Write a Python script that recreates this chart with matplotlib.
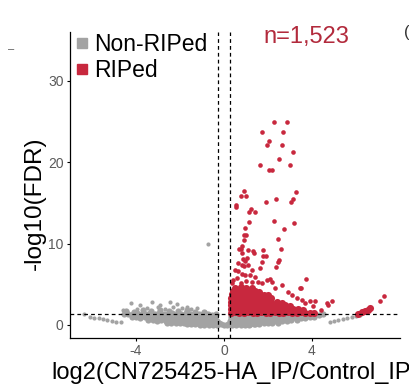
import matplotlib
matplotlib.use("Agg")
import matplotlib.pyplot as plt
from matplotlib.lines import Line2D

plt.rcParams["font.family"] = ["Liberation Sans", "DejaVu Sans"]
plt.rcParams["axes.unicode_minus"] = False

RED = "#C8283E"
GRAY = "#A3A3A3"

# red points above the cut-off, read one by one
red_sparse_x = [2.29, 2.88, 1.73, 2.67, 2.06, 1.95, 2.62, 3.12, 2.52, 1.64, 2.98, 2.06, 2.18,
                0.89, 3.26, 0.76, 0.98, 2.36, 3.14, 1.91, 3.03, 0.56, 0.55, 1.21, 1.42, 1.15,
                2.27, 1.15, 3.17, 0.95, 2.73, 0.93, 0.99, 2.44, 0.91, 0.83, 0.68, 0.79, 1.11,
                1.33, 1.79, 2.59, 0.83, 1.36, 1.79, 1.89, 2.51, 2.47, 0.85, 0.95, 1.03, 0.65,
                0.80, 0.91, 1.11, 1.26, 1.71, 1.64, 2.36, 0.50, 0.65, 0.80, 0.95, 1.18, 1.41,
                2.09, 2.17, 3.73, 1.56, 1.71, 1.94, 3.45, 2.62, 2.92, 3.08, 3.30, 3.53, 3.68,
                3.91, 4.14, 4.67, 4.89, 4.41, 4.74, 4.06, 3.48, 0.40, 0.60, 0.35, 1.00, 1.25,
                0.75, 2.30, 7.09, 7.29]
red_sparse_y = [25.0, 25.0, 23.7, 23.7, 22.6, 22.1, 22.1, 21.3, 20.4, 19.7, 19.6, 19.1, 19.1,
                16.5, 16.4, 15.9, 15.8, 15.5, 15.5, 15.1, 15.1, 14.7, 14.5, 14.2, 13.9, 13.9,
                12.8, 12.7, 12.5, 11.9, 11.8, 11.1, 11.0, 10.6, 10.4, 9.7, 9.3, 9.3, 9.2,
                9.1, 9.2, 9.3, 8.8, 8.8, 8.5, 8.5, 8.0, 7.8, 8.1, 7.9, 8.2, 7.6,
                7.4, 7.2, 7.4, 6.8, 7.7, 7.0, 7.1, 6.8, 6.6, 6.3, 6.2, 6.2, 5.9,
                5.7, 5.3, 5.7, 5.3, 5.1, 5.5, 4.5, 4.9, 4.1, 3.7, 3.3, 3.1, 2.7,
                2.9, 2.9, 2.7, 3.0, 1.8, 2.5, 2.3, 4.6, 5.5, 5.8, 5.2, 5.4, 5.3,
                5.1, 4.6, 3.0, 3.5]

# dense red block just above the cut-off
red_core_x = [0.32, 0.50, 0.70, 0.90, 1.10, 1.30, 1.50, 1.70, 1.90, 2.10, 2.30, 2.50, 2.70, 2.90,
              3.10, 3.30, 3.50, 3.70, 3.90, 4.10,
              0.33, 0.52, 0.72, 0.92, 1.12, 1.32, 1.52, 1.72, 1.92, 2.12, 2.32, 2.52, 2.72, 2.92,
              3.12, 3.35, 3.60,
              0.32, 0.50, 0.70, 0.90, 1.10, 1.30, 1.50, 1.70, 1.90, 2.10, 2.30, 2.50, 2.75, 3.00,
              0.34, 0.54, 0.74, 0.94, 1.14, 1.34, 1.54, 1.74, 1.94, 2.14, 2.40, 2.65,
              0.33, 0.52, 0.72, 0.92, 1.12, 1.32, 1.52, 1.72, 1.92, 2.15,
              0.36, 0.55, 0.75, 0.95, 1.15, 1.35, 1.55, 1.80, 2.00,
              0.42, 0.60, 0.80, 1.00, 1.20, 1.40, 1.60,
              0.50, 0.75, 1.00, 1.25,
              6.10, 6.25, 6.40, 6.55, 6.64]
red_core_y = [1.50, 1.55, 1.45, 1.50, 1.55, 1.45, 1.50, 1.55, 1.45, 1.50, 1.55, 1.45, 1.50, 1.55,
              1.45, 1.50, 1.55, 1.45, 1.50, 1.45,
              1.95, 1.90, 2.00, 1.95, 1.90, 2.00, 1.95, 1.90, 2.00, 1.95, 1.90, 2.00, 1.95, 1.90,
              2.00, 1.95, 1.85,
              2.40, 2.45, 2.35, 2.40, 2.45, 2.35, 2.40, 2.45, 2.35, 2.40, 2.45, 2.35, 2.40, 2.35,
              2.85, 2.80, 2.90, 2.85, 2.80, 2.90, 2.85, 2.80, 2.90, 2.85, 2.80, 2.75,
              3.30, 3.35, 3.25, 3.30, 3.35, 3.25, 3.30, 3.35, 3.25, 3.30,
              3.75, 3.80, 3.70, 3.75, 3.80, 3.70, 3.75, 3.70, 3.65,
              4.20, 4.25, 4.15, 4.20, 4.25, 4.15, 4.10,
              4.60, 4.65, 4.55, 4.60,
              1.38, 1.55, 1.70, 1.90, 2.05]

# grey band, left of zero
gray_left_x = [-4.55, -4.35, -4.15, -3.95, -3.75, -3.55, -3.35, -3.15, -2.95, -2.75, -2.55, -2.35,
               -2.15, -1.95, -1.75, -1.55, -1.35, -1.15, -0.95, -0.75, -0.55, -0.38,
               -4.2, -4.0, -3.8, -3.6, -3.4, -3.2, -3.0, -2.8, -2.6, -2.4, -2.2, -2.0, -1.8, -1.6,
               -1.4, -1.2, -1.0, -0.8, -0.6, -0.4,
               -3.45, -3.25, -3.05, -2.85, -2.65, -2.45, -2.25, -2.05, -1.85, -1.65, -1.45, -1.25,
               -1.05, -0.85, -0.65, -0.45, -0.30,
               -2.6, -2.4, -2.2, -2.0, -1.8, -1.6, -1.4, -1.2, -1.0, -0.8, -0.6, -0.4, -0.25,
               -1.7, -1.5, -1.3, -1.1, -0.9, -0.7, -0.5, -0.3, -0.15,
               -4.45, -4.1, -3.7, -3.3, -2.9, -2.5, -2.1, -1.7, -1.3, -0.9]
gray_left_y = [1.30, 1.40, 1.35, 1.45, 1.30, 1.40, 1.50, 1.35, 1.45, 1.40, 1.30, 1.50,
               1.40, 1.35, 1.45, 1.30, 1.40, 1.35, 1.30, 1.40, 1.25, 1.30,
               1.00, 0.95, 0.90, 0.95, 0.90, 0.95, 1.00, 0.90, 0.95, 0.90, 1.00, 0.95, 0.90, 0.95,
               1.00, 0.90, 0.95, 0.90, 0.95, 0.90,
               0.65, 0.60, 0.55, 0.60, 0.55, 0.60, 0.55, 0.60, 0.55, 0.60, 0.55, 0.60,
               0.55, 0.60, 0.55, 0.60, 0.55,
               0.30, 0.28, 0.25, 0.30, 0.25, 0.28, 0.25, 0.30, 0.25, 0.28, 0.30, 0.25, 0.30,
               0.10, 0.08, 0.06, 0.05, 0.04, 0.05, 0.03, 0.05, 0.10,
               1.75, 1.65, 1.80, 1.70, 1.85, 1.75, 1.70, 1.80, 1.65, 1.60]

# grey band, right of zero
gray_right_x = [0.3, 0.5, 0.7, 0.9, 1.1, 1.3, 1.5, 1.7, 1.9, 2.1, 2.3, 2.5, 2.7, 2.9, 3.1, 3.3,
                3.5, 3.7, 3.9, 4.1, 4.3, 4.5,
                0.3, 0.5, 0.7, 0.9, 1.1, 1.3, 1.5, 1.7, 1.9, 2.1, 2.3, 2.5, 2.7, 2.9, 3.1, 3.3,
                3.5, 3.7, 3.9, 4.1,
                0.25, 0.45, 0.65, 0.85, 1.05, 1.25, 1.45, 1.65, 1.85, 2.05, 2.25, 2.45, 2.65,
                2.85, 3.05, 3.30,
                0.2, 0.4, 0.6, 0.8, 1.0, 1.2, 1.4, 1.6, 1.8, 2.0, 2.2, 2.45,
                0.0, 0.15, 0.35, 0.55, 0.75, 0.95, 1.15, 1.35]
gray_right_y = [1.15, 1.10, 1.20, 1.15, 1.10, 1.20, 1.15, 1.10, 1.20, 1.15, 1.10, 1.20, 1.15,
                1.10, 1.20, 1.15, 1.20, 1.15, 1.20, 1.20, 1.25, 1.30,
                0.80, 0.75, 0.80, 0.75, 0.80, 0.75, 0.80, 0.75, 0.80, 0.75, 0.80, 0.80, 0.85,
                0.80, 0.85, 0.85, 0.90, 0.90, 0.95, 1.00,
                0.45, 0.45, 0.40, 0.45, 0.40, 0.45, 0.40, 0.45, 0.45, 0.45, 0.50, 0.50, 0.55,
                0.55, 0.60, 0.65,
                0.15, 0.15, 0.12, 0.15, 0.12, 0.15, 0.15, 0.18, 0.20, 0.22, 0.25, 0.30,
                0.02, 0.05, 0.04, 0.03, 0.04, 0.04, 0.05, 0.06]

# loose grey points and the two far tails
gray_sparse_x = [-4.58, -4.24, -3.95, -3.82, -3.5, -3.29, -3.0, -2.91, -2.7, -2.45, -2.3, -2.15,
                 -1.9, -1.7, -1.5, -1.24, -0.86, -0.73,
                 -6.36, -6.1, -5.9, -5.7, -5.5, -5.3, -5.1, -4.9, -4.7,
                 4.82, 5.0, 5.2, 5.4, 5.6, 5.8, 6.0, 6.18]
gray_sparse_y = [1.85, 2.67, 2.0, 2.46, 2.1, 2.87, 2.2, 2.46, 2.0, 2.87, 2.2, 2.53,
                 2.05, 2.25, 1.95, 2.04, 1.64, 10.0,
                 1.39, 1.02, 0.9, 0.8, 0.7, 0.6, 0.5, 0.42, 0.35,
                 0.41, 0.5, 0.6, 0.72, 0.85, 0.98, 1.1, 1.23]

fc_cut = 0.263
fdr_cut = 1.301
n_label = "n=1,523"

fig = plt.figure(figsize=(4.09, 3.87), dpi=100)
ax = fig.add_axes([70/409, 49/387, 330/409, 306/387])

ax.scatter(gray_left_x, gray_left_y, s=20, c=GRAY, linewidths=0, zorder=2)
ax.scatter(gray_right_x, gray_right_y, s=20, c=GRAY, linewidths=0, zorder=2)
ax.scatter(gray_sparse_x, gray_sparse_y, s=9, c=GRAY, linewidths=0, zorder=2)
ax.scatter(red_core_x, red_core_y, s=26, c=RED, linewidths=0, zorder=3)
ax.scatter(red_sparse_x, red_sparse_y, s=11, c=RED, linewidths=0, zorder=3)

ax.axvline(-fc_cut, color="black", lw=0.9, ls=(0, (3, 2.5)), zorder=4)
ax.axvline(fc_cut, color="black", lw=0.9, ls=(0, (3, 2.5)), zorder=4)
ax.axhline(fdr_cut, color="black", lw=0.9, ls=(0, (3, 2.5)), zorder=4)

ax.set_xlim(-7.0, 8.0)
ax.set_ylim(-1.6, 36.0)
ax.set_xticks([-4, 0, 4])
ax.set_yticks([0, 10, 20, 30])
ax.spines["top"].set_visible(False)
ax.spines["right"].set_visible(False)
for s in ["left", "bottom"]:
    ax.spines[s].set_linewidth(0.9)
ax.tick_params(labelsize=10, labelcolor="#5a5a5a", length=2.5, width=0.8, pad=2)

ax.set_xlabel("log2(CN725425-HA_IP/Control_IP)", fontsize=17, labelpad=3)
ax.set_ylabel("-log10(FDR)", fontsize=17.5)
ax.yaxis.set_label_coords(-0.072, 0.44)

handles = [Line2D([], [], marker="s", ls="", color=GRAY, markersize=7.5),
           Line2D([], [], marker="s", ls="", color=RED, markersize=7.5)]
ax.legend(handles, ["Non-RIPed", "RIPed"], loc="upper left",
          bbox_to_anchor=(76/409, 1 - 33/387), bbox_transform=fig.transFigure,
          frameon=False, fontsize=16.5, borderpad=0, handlelength=0.5,
          handletextpad=0.3, labelspacing=0.15, borderaxespad=0)

fig.text(263/409, 1 - 43/387, n_label, color="#B22A3C", fontsize=17, va="baseline")
fig.text(8/409, 1 - 52/387, "\u2013", color="#555555", fontsize=8, va="baseline")
fig.text(404/409, 1 - 37/387, "(", color="#333333", fontsize=12, va="baseline")

fig.savefig("out.png", dpi=100)
